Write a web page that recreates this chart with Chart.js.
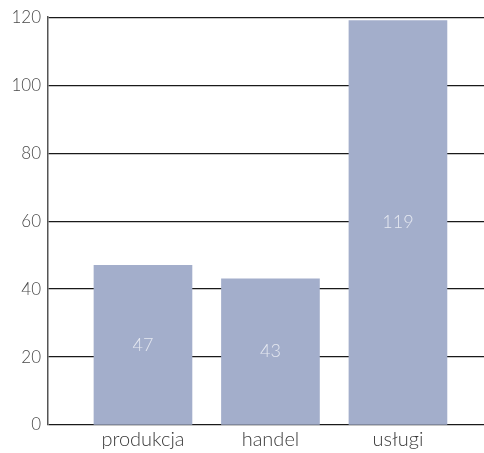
<!DOCTYPE html>
<html>
<head>
<meta charset="utf-8">
<script src="https://cdn.jsdelivr.net/npm/chart.js@4"></script>
<style>
  html, body { margin: 0; padding: 0; background: #fff; }
  #wrap { width: 484px; height: 453px; }
</style>
</head>
<body>
<div id="wrap"><canvas id="chart"></canvas></div>
<script>
'use strict';

const sectors = ['produkcja', 'handel', 'usługi'];
const counts = [47, 43, 119];
const yTicks = [0, 20, 40, 60, 80, 100, 120];

const FONT = "'Lato', 'Noto Sans', sans-serif";

// value printed in the middle of each bar
const barValues = {
  id: 'barValues',
  afterDatasetsDraw(chart) {
    const ctx = chart.ctx;
    const meta = chart.getDatasetMeta(0);
    ctx.save();
    ctx.font = '300 18px ' + FONT;
    ctx.fillStyle = 'rgba(255,255,255,0.72)';
    ctx.textAlign = 'center';
    ctx.textBaseline = 'middle';
    meta.data.forEach((bar, i) => {
      const mid = (bar.y + bar.base) / 2;
      ctx.fillText(String(counts[i]), bar.x, mid);
    });
    ctx.restore();
  }
};

let points = [];
counts.map((v, i) => {
  points.push({ x: i, y: v });
});

new Chart(document.getElementById('chart'), {
  type: 'bar',
  data: {
    datasets: [{
      data: points,
      backgroundColor: '#a3aecb',
      hoverBackgroundColor: '#a3aecb',
      borderWidth: 0,
      barThickness: 98
    }]
  },
  options: {
    responsive: true,
    maintainAspectRatio: false,
    animation: false,
    events: [],
    layout: { padding: { top: 8, left: 0, right: 0, bottom: 0 } },
    plugins: {
      legend: { display: false },
      tooltip: { enabled: false }
    },
    scales: {
      x: {
        type: 'linear',
        min: -0.745,
        max: 2.675,
        offset: false,
        grid: { display: false },
        border: { display: false },
        afterBuildTicks: (scale) => {
          scale.ticks = sectors.map((s, i) => ({ value: i }));
        },
        afterFit: (scale) => { scale.height = 28; },
        ticks: {
          autoSkip: false,
          maxRotation: 0,
          padding: -5,
          color: '#3a3a3a',
          font: { family: FONT, size: 20, weight: 300 },
          callback: (v) => sectors[v]
        }
      },
      y: {
        min: 0,
        max: 120,
        afterBuildTicks: (scale) => {
          scale.ticks = yTicks.map((v) => ({ value: v }));
        },
        afterFit: (scale) => { scale.width = 48; },
        grid: {
          color: '#1a1a1a',
          lineWidth: 1.2,
          drawTicks: false
        },
        border: { display: true, color: '#555', width: 1.5 },
        ticks: {
          padding: 7,
          color: '#4a4a4a',
          font: { family: FONT, size: 17, weight: 300 }
        }
      }
    }
  },
  plugins: [barValues]
});
</script>
</body>
</html>
